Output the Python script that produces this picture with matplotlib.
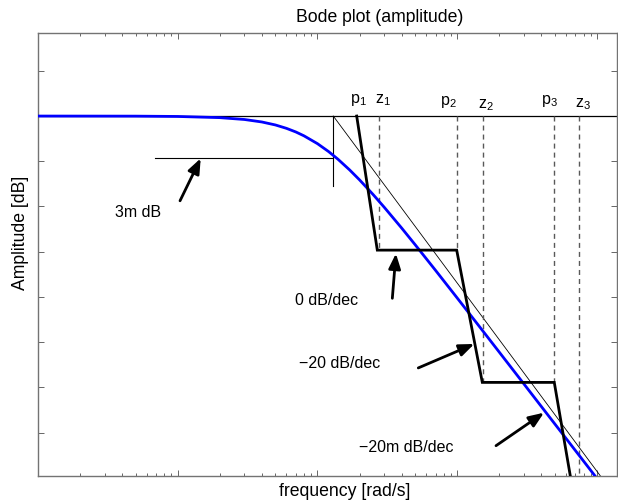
import matplotlib
matplotlib.use("Agg")
import matplotlib.pyplot as plt
import numpy as np

plt.rcParams['font.family'] = ['Liberation Sans', 'DejaVu Sans']
plt.rcParams['mathtext.fontset'] = 'custom'
plt.rcParams['mathtext.rm'] = 'Liberation Sans'
plt.rcParams['mathtext.it'] = 'Liberation Sans:italic'

# blue amplitude curve (rad/s, dB)
freq_blue = [0.1, 0.5, 1, 2, 3, 4, 5, 6, 7, 8, 10, 12, 14, 17, 20, 25, 30,
             40, 50, 70, 100, 150, 200, 300, 500, 700, 1000, 1100]
amp_blue = [0.0, -0.02, -0.09, -0.35, -0.76, -1.31, -1.97, -2.72, -3.52, -4.37,
            -6.11, -7.85, -9.54, -11.93, -14.12, -17.36, -20.16, -24.77, -28.47,
            -34.15, -40.26, -47.26, -52.24, -59.27, -68.14, -73.98, -80.18, -81.8]

# thick staircase (poles / zeros approximation)
stair_freq = [19.07, 26.78, 99.0, 151.0, 494, 647.5, 690]
stair_amp = [0, -29.65, -29.65, -58.9, -58.9, -80.1, -82.5]

# thin asymptote from corner frequency
asym_freq = [12.97, 1080]
asym_amp = [0, -80]
corner_freq = 12.97
corner_bottom = -15.5
level_3db = -9.2
start_3db = 0.688

# dashed markers at z1, p2, z2, p3, z3
dash_freq = [27.4, 99.0, 151.9, 494, 742]
dash_bottom = [-29.65, -29.65, -58.9, -58.9, -82]

# pole / zero labels
pz_names = ['p$_1$', 'z$_1$', 'p$_2$', 'z$_2$', 'p$_3$', 'z$_3$']
pz_freq = [19.5, 29.4, 85.8, 160.5, 452.9, 793]
pz_amp = [2.9, 2.9, 2.4, 1.8, 2.7, 2.0]

# arrow annotations
note_texts = ['3m dB', '0 dB/dec', '\u221220 dB/dec', '\u221220m dB/dec']
note_freq = [0.52, 11.56, 14.42, 43.4]
note_amp = [-21.4, -40.7, -54.7, -73.2]
tail_freq = [1.039, 34.3, 52.6, 189.2]
tail_amp = [-18.74, -40.3, -55.7, -72.9]
tip_freq = [1.460, 36.4, 132.3, 417]
tip_amp = [-9.36, -30.4, -50.4, -65.6]

fig = plt.figure(figsize=(6.18, 5.04), dpi=100)
ax = fig.add_axes([37.9 / 618, 1 - 476 / 504, (617 - 37.9) / 618, (476 - 33.3) / 504])

ax.axhline(0, color='k', lw=0.9, zorder=2)
ax.plot(asym_freq, asym_amp, color='k', lw=0.6, zorder=2)
ax.plot([corner_freq, corner_freq], [0, corner_bottom], color='k', lw=0.8, zorder=2)
ax.plot([start_3db, corner_freq], [level_3db, level_3db], color='k', lw=0.8, zorder=2)
for f, b in zip(dash_freq, dash_bottom):
    ax.plot([f, f], [0, b], color='0.35', lw=1.0, dashes=(3.6, 2.9), zorder=2)
ax.plot(freq_blue, amp_blue, color='#0000ff', lw=2.0, zorder=3)
ax.plot(stair_freq, stair_amp, color='k', lw=2.0, zorder=4, solid_joinstyle='miter')

for name, f, a in zip(pz_names, pz_freq, pz_amp):
    ax.text(f, a, name, ha='center', va='baseline', fontsize=11.5)

for t, f, a in zip(note_texts, note_freq, note_amp):
    ax.text(f, a, t, ha='center', va='center', fontsize=11.5)
for tf, ta, hf, ha_ in zip(tail_freq, tail_amp, tip_freq, tip_amp):
    ax.annotate('', xy=(hf, ha_), xytext=(tf, ta),
                arrowprops=dict(arrowstyle='-|>,head_length=0.45,head_width=0.18',
                                mutation_scale=20, lw=2.0, color='k',
                                shrinkA=0, shrinkB=0), zorder=5)

ax.set_xscale('log')
ax.set_xlim(0.1, 1388)
ax.set_ylim(-79.6, 18.3)
ax.set_yticks(np.arange(-70, 11, 10))
ax.tick_params(which='both', direction='in', top=True, right=True,
               labelbottom=False, labelleft=False, color='0.4', width=0.7)
ax.tick_params(which='major', length=4)
ax.tick_params(which='minor', length=2.2)
for s in ax.spines.values():
    s.set_color('0.45')
    s.set_linewidth(1.0)

fig.text(379.5 / 618, 1 - 21.7 / 504, 'Bode plot (amplitude)', ha='center',
         va='baseline', fontsize=12.7)
fig.text(345 / 618, 1 - 496 / 504, 'frequency [rad/s]', ha='center',
         va='baseline', fontsize=12.7)
fig.text(21 / 618, 1 - 233 / 504, 'Amplitude [dB]', ha='center', va='center',
         rotation=90, fontsize=12.7)

fig.savefig('out.png', dpi=100)
